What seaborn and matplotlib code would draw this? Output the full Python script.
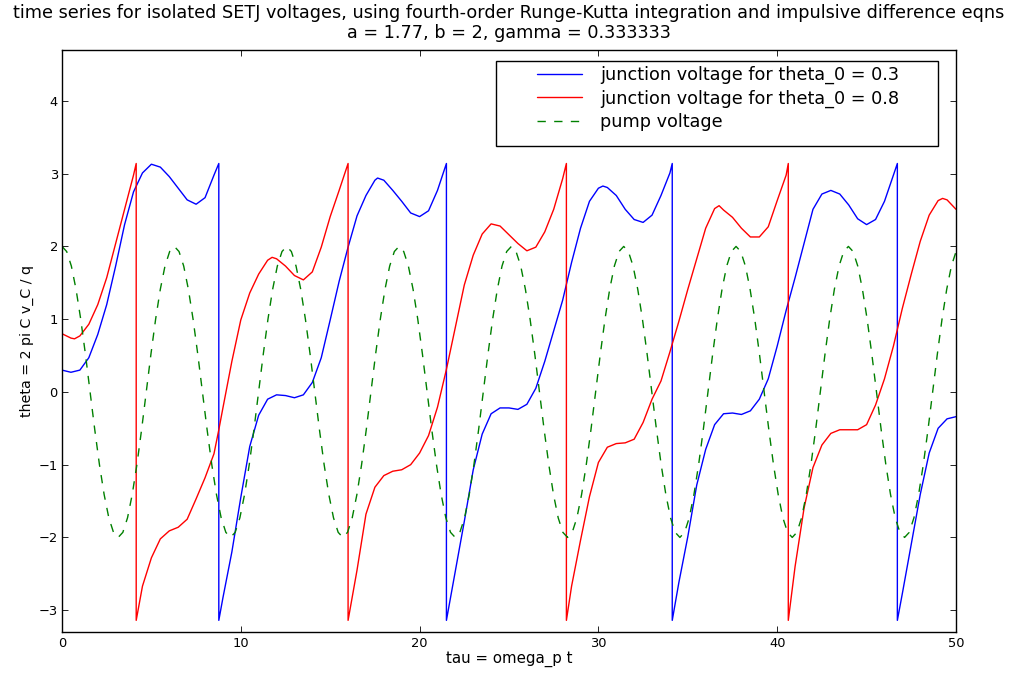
import numpy as np
import matplotlib
matplotlib.use("Agg")
import matplotlib.pyplot as plt
import matplotlib.patches as mpatches
import seaborn as sns

# ---------------- data ----------------
blue_tau = [0, 0.5, 1, 1.5, 2, 2.5, 3, 3.5, 4, 4.5, 5, 5.5, 6, 6.5, 7, 7.5, 8, 8.5, 8.77,
            8.77, 9, 9.5, 10, 10.5, 11, 11.5, 12, 12.5, 13, 13.5, 14, 14.5, 15, 15.5, 16,
            16.5, 17, 17.5, 17.65, 18, 18.5, 19, 19.5, 20, 20.5, 21, 21.5,
            21.5, 22, 22.5, 23, 23.5, 24, 24.5, 25, 25.5, 26, 26.5, 27, 27.5, 28, 28.5, 29,
            29.5, 30, 30.25, 30.5, 31, 31.5, 32, 32.5, 33, 33.5, 34, 34.13,
            34.13, 34.5, 35, 35.5, 36, 36.5, 37, 37.5, 38, 38.5, 39, 39.5, 40, 40.5, 41, 41.5,
            42, 42.5, 43, 43.5, 44, 44.5, 45, 45.5, 46, 46.5, 46.72,
            46.72, 47, 47.5, 48, 48.5, 49, 49.5, 50]
blue_theta = [0.30, 0.27, 0.30, 0.47, 0.79, 1.20, 1.73, 2.30, 2.75, 3.01, 3.13, 3.09, 2.96,
              2.80, 2.64, 2.58, 2.67, 2.98, 3.14,
              -3.14, -2.83, -2.20, -1.45, -0.75, -0.32, -0.10, -0.04, -0.05, -0.08, -0.04,
              0.13, 0.47, 0.99, 1.52, 1.99, 2.42, 2.70, 2.91, 2.94, 2.91, 2.77, 2.62, 2.46,
              2.41, 2.49, 2.77, 3.14,
              -3.14, -2.46, -1.78, -1.07, -0.58, -0.30, -0.22, -0.22, -0.24, -0.17, 0.05,
              0.42, 0.84, 1.26, 1.78, 2.25, 2.62, 2.80, 2.83, 2.81, 2.70, 2.51, 2.37, 2.33,
              2.43, 2.70, 3.01, 3.14,
              -3.14, -2.62, -1.99, -1.28, -0.79, -0.45, -0.30, -0.29, -0.31, -0.26, -0.10,
              0.18, 0.63, 1.12, 1.57, 2.04, 2.51, 2.72, 2.77, 2.72, 2.57, 2.38, 2.30, 2.37,
              2.62, 2.98, 3.14,
              -3.14, -2.77, -2.09, -1.41, -0.84, -0.50, -0.37, -0.34]

red_tau = [0, 0.5, 0.7, 1, 1.5, 2, 2.5, 3, 3.5, 4, 4.15,
           4.15, 4.5, 5, 5.5, 6, 6.5, 7, 7.5, 8, 8.5, 8.77, 9, 9.5, 10, 10.5, 11, 11.5, 11.75,
           12, 12.5, 13, 13.5, 14, 14.5, 15, 15.5, 16,
           16.0, 16.5, 17, 17.5, 18, 18.5, 19, 19.5, 20, 20.5, 21, 21.5, 22, 22.5, 23, 23.5,
           24, 24.5, 25, 25.5, 26, 26.5, 27, 27.5, 28, 28.21,
           28.21, 28.5, 29, 29.5, 30, 30.5, 31, 31.5, 32, 32.5, 33, 33.5, 34, 34.5, 35, 35.5,
           36, 36.5, 36.75, 37, 37.5, 38, 38.5, 39, 39.5, 40, 40.5, 40.62,
           40.62, 41, 41.5, 42, 42.5, 43, 43.5, 44, 44.5, 45, 45.5, 46, 46.5, 47, 47.5, 48,
           48.5, 49, 49.25, 49.5, 50]
red_theta = [0.80, 0.74, 0.73, 0.77, 0.93, 1.20, 1.57, 2.04, 2.51, 2.98, 3.14,
             -3.14, -2.67, -2.28, -2.02, -1.91, -1.86, -1.75, -1.47, -1.18, -0.85, -0.52,
             -0.22, 0.42, 0.99, 1.36, 1.62, 1.81, 1.85, 1.83, 1.73, 1.60, 1.54, 1.65, 1.99,
             2.41, 2.77, 3.14,
             -3.14, -2.45, -1.68, -1.31, -1.15, -1.09, -1.07, -1.00, -0.84, -0.60, -0.21,
             0.31, 0.89, 1.47, 1.88, 2.17, 2.31, 2.28, 2.16, 2.04, 1.94, 1.99, 2.20, 2.51,
             2.93, 3.14,
             -3.14, -2.67, -2.04, -1.44, -0.97, -0.76, -0.71, -0.70, -0.65, -0.42, -0.10,
             0.15, 0.55, 0.97, 1.41, 1.83, 2.25, 2.52, 2.56, 2.50, 2.40, 2.25, 2.13, 2.13,
             2.27, 2.63, 2.98, 3.14,
             -3.14, -2.40, -1.60, -1.04, -0.73, -0.57, -0.52, -0.52, -0.52, -0.45, -0.18,
             0.18, 0.63, 1.15, 1.62, 2.07, 2.43, 2.63, 2.66, 2.64, 2.51]

# pump voltage sampled every pi/12 in tau
pump_theta = [
    2.00, 1.93, 1.73, 1.41, 1.00, 0.52, 0.00, -0.52, -1.00, -1.41, -1.73, -1.93,
    -2.00, -1.93, -1.73, -1.41, -1.00, -0.52, 0.00, 0.52, 1.00, 1.41, 1.73, 1.93,
    2.00, 1.93, 1.73, 1.41, 1.00, 0.52, 0.00, -0.52, -1.00, -1.41, -1.73, -1.93,
    -2.00, -1.93, -1.73, -1.41, -1.00, -0.52, 0.00, 0.52, 1.00, 1.41, 1.73, 1.93,
    2.00, 1.93, 1.73, 1.41, 1.00, 0.52, 0.00, -0.52, -1.00, -1.41, -1.73, -1.93,
    -2.00, -1.93, -1.73, -1.41, -1.00, -0.52, 0.00, 0.52, 1.00, 1.41, 1.73, 1.93,
    2.00, 1.93, 1.73, 1.41, 1.00, 0.52, 0.00, -0.52, -1.00, -1.41, -1.73, -1.93,
    -2.00, -1.93, -1.73, -1.41, -1.00, -0.52, 0.00, 0.52, 1.00, 1.41, 1.73, 1.93,
    2.00, 1.93, 1.73, 1.41, 1.00, 0.52, 0.00, -0.52, -1.00, -1.41, -1.73, -1.93,
    -2.00, -1.93, -1.73, -1.41, -1.00, -0.52, 0.00, 0.52, 1.00, 1.41, 1.73, 1.93,
    2.00, 1.93, 1.73, 1.41, 1.00, 0.52, 0.00, -0.52, -1.00, -1.41, -1.73, -1.93,
    -2.00, -1.93, -1.73, -1.41, -1.00, -0.52, 0.00, 0.52, 1.00, 1.41, 1.73, 1.93,
    2.00, 1.93, 1.73, 1.41, 1.00, 0.52, 0.00, -0.52, -1.00, -1.41, -1.73, -1.93,
    -2.00, -1.93, -1.73, -1.41, -1.00, -0.52, 0.00, 0.52, 1.00, 1.41, 1.73, 1.93,
    2.00, 1.93, 1.73, 1.41, 1.00, 0.52, 0.00, -0.52, -1.00, -1.41, -1.73, -1.93,
    -2.00, -1.93, -1.73, -1.41, -1.00, -0.52, 0.00, 0.52, 1.00, 1.41, 1.73, 1.93,
]
pump_tau = np.arange(len(pump_theta)) * np.pi / 12

x_ticks = [0, 10, 20, 30, 40, 50]
y_ticks = [-3, -2, -1, 0, 1, 2, 3, 4]

labels = ["junction voltage for theta_0 = 0.3",
          "junction voltage for theta_0 = 0.8",
          "pump voltage"]
title = ("time series for isolated SETJ voltages, using fourth-order Runge-Kutta "
         "integration and impulsive difference eqns\na = 1.77, b = 2, gamma = 0.333333")

# ---------------- style ----------------
sns.set_theme(style="white", rc={
    "axes.edgecolor": "black", "axes.linewidth": 1.0,
    "xtick.direction": "in", "ytick.direction": "in",
    "xtick.top": True, "ytick.right": True,
    "xtick.bottom": True, "ytick.left": True,
    "xtick.major.size": 4, "ytick.major.size": 4,
    "xtick.major.width": 0.6, "ytick.major.width": 0.6,
    "xtick.major.pad": 3.5, "ytick.major.pad": 3,
    "xtick.color": "black", "ytick.color": "black",
    "axes.labelcolor": "black", "text.color": "black",
    "axes.facecolor": "white", "figure.facecolor": "white",
})
plt.rcParams["font.family"] = ["DejaVu Sans"]

fig = plt.figure(figsize=(10.12, 6.73), dpi=100)
ax = fig.add_axes([62 / 1012, 41 / 673, 894 / 1012, 582 / 673])

sns.lineplot(x=blue_tau, y=blue_theta, ax=ax, color="#0000ff", lw=1.0,
             sort=False, estimator=None, label=labels[0])
sns.lineplot(x=red_tau, y=red_theta, ax=ax, color="#ff0000", lw=1.0,
             sort=False, estimator=None, label=labels[1])
sns.lineplot(x=pump_tau, y=pump_theta, ax=ax, color="#008000", lw=1.0,
             sort=False, estimator=None, label=labels[2], linestyle=(0, (6, 6)))

ax.set_xlim(0, 50)
ax.set_ylim(-3.3, 4.7)
ax.set_xticks(x_ticks)
ax.set_yticks(y_ticks)
ax.tick_params(labelsize=9.4)
ax.set_xlabel("tau = omega_p t", fontsize=10.8, labelpad=1)
ax.set_ylabel("theta = 2 pi C v_C / q", fontsize=10.2, labelpad=3)
ax.set_title(title, fontsize=12.7, pad=9, linespacing=1.1)

# legend frame
ax.add_patch(mpatches.Rectangle((0.4855, 0.835), 0.4944, 0.1461, transform=ax.transAxes,
                                facecolor="white", edgecolor="black", lw=1.0, zorder=4.5))
handles, _ = ax.get_legend_handles_labels()
ax.legend(handles, labels, loc="upper left", bbox_to_anchor=(0.5313, 0.9725),
          frameon=False, borderpad=0, borderaxespad=0, fontsize=12.7,
          handlelength=2.56, handletextpad=1.0, labelspacing=0.3)

fig.savefig("out.png", dpi=100)
